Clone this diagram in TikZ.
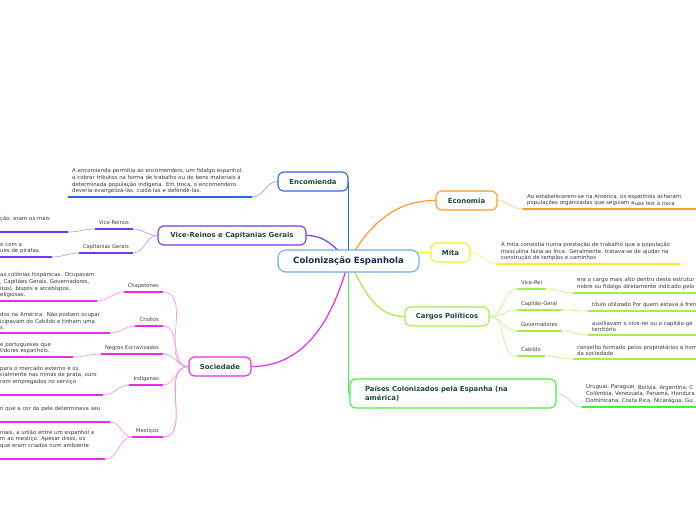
\documentclass[tikz,border=0pt]{standalone}
\usepackage{fontspec}
\setmainfont{DejaVu Sans}
\usepackage{xcolor}
\usepackage{tikz}
\usetikzlibrary{backgrounds}

\definecolor{cBlue}{HTML}{2468EA}
\definecolor{cPurple}{HTML}{7438F2}
\definecolor{cMagenta}{HTML}{EA2CEA}
\definecolor{cOrange}{HTML}{FF9B21}
\definecolor{cYellow}{HTML}{F0F024}
\definecolor{cLime}{HTML}{A4F046}
\definecolor{cGreen}{HTML}{46EE46}
\definecolor{cSky}{HTML}{6CB2E6}
\definecolor{cTitle}{HTML}{1E4A3C}
\definecolor{cNavy}{HTML}{1D2B4F}
\definecolor{cText}{HTML}{3A3A3A}

\begin{document}
\begin{tikzpicture}[x=1pt, y=-1pt,
  every node/.style={font=\fontsize{5.2}{6.5}\selectfont, text=cText, inner sep=0pt},
  topic/.style={rectangle, rounded corners=6pt, draw, line width=1.1pt, fill=white, minimum height=19pt, align=center, font=\bfseries\fontsize{6.9}{8.4}\selectfont, text=cTitle},
  root/.style={topic, draw=cSky, rounded corners=8pt, minimum height=22pt, font=\bfseries\fontsize{8.6}{10}\selectfont, text=cNavy},
  lbl/.style={inner xsep=4pt, inner ysep=3pt, text depth=1pt},
  note/.style={align=left, inner xsep=4pt, inner ysep=3pt, font=\fontsize{5.4}{6.6}\selectfont},
  ul/.style={line width=1.6pt},
  arm/.style={line width=1.2pt},
  twig/.style={line width=0.6pt},
]
\useasboundingbox (0,0) rectangle (696,520);

% main topics
\node[root, minimum width=141pt]               (cen)  at (348.5,261)   {Colonização Espanhola};
\node[topic, draw=cBlue, minimum width=70pt]   (enc)  at (313,181.5)   {Encomienda};
\node[topic, draw=cPurple, minimum width=148pt] (vrc) at (232,235.5)   {Vice-Reinos e Capitanias Gerais};
\node[topic, draw=cMagenta, minimum width=62pt] (soc) at (220,366.5)   {Sociedade};
\node[topic, draw=cOrange, minimum width=61pt] (eco)  at (466.5,200.5) {Economia};
\node[topic, draw=cYellow, minimum width=39pt] (mita) at (450.5,252.5) {Mita};
\node[topic, draw=cLime, minimum width=84pt]   (cp)   at (447,316.5)   {Cargos Políticos};
\node[topic, draw=cGreen, minimum height=29pt, text width=176pt, inner xsep=15pt, align=left] (pce) at (453,393.5)
  {Países Colonizados pela Espanha (na\\américa)};

% sub topics
\node[lbl, anchor=south east] (vrei) at (133,229) {Vice-Reinos};
\node[lbl, anchor=south east] (capg) at (133,253) {Capitanias Gerais};
\node[lbl, anchor=south east] (cha)  at (163,292) {Chapetones};
\node[lbl, anchor=south east] (cri)  at (163,326) {Criollos};
\node[lbl, anchor=south east] (neg)  at (163,354) {Negros Escravizados};
\node[lbl, anchor=south east] (ind)  at (163,385) {Indígenas};
\node[lbl, anchor=south east] (mes)  at (163,437) {Mestiços};
\node[lbl, anchor=south west] (vrr)  at (517,289) {Vice-Rei};
\node[lbl, anchor=south west] (cgl)  at (517,310) {Capitão-Geral};
\node[lbl, anchor=south west] (gov)  at (517,331) {Governadores};
\node[lbl, anchor=south west] (cab)  at (517,356) {Cabildo};

% notes
\node[note, anchor=south west, text width=176pt] (enct) at (68,197)
  {A encomienda permitia ao encomendero, um fidalgo espanhol,\\a cobrar tributos na forma de trabalho ou de bens materiais à\\determinada população indígena. Em troca, o encomendero\\deveria evangelizá-las, cuidá-las e defendê-las.};
\node[note, anchor=south west, text width=64pt]  (vret) at (-4,232) {ção, eram os mais\\\strut};
\node[note, anchor=south west, text width=48pt]  (capt) at (-4,257) {o com a\\ues de piratas.};
\node[note, anchor=south west, text width=93pt]  (chat) at (-4,301)
  {\mbox{as colônias hispânicas. Ocupavam}\\\mbox{, Capitães Gerais, Governadores,}\\itos), bispos e arcebispos,\\eligiosas.};
\node[note, anchor=south west, text width=106pt] (crit) at (-4,333)
  {dos na América. Não podiam ocupar\\icipavam do Cabildo e tinham uma\\s.};
\node[note, anchor=south west, text width=69pt]  (negt) at (-4,357) {e portugueses que\\tidores espanhóis.};
\node[note, anchor=south west, text width=99pt]  (indt) at (-4,395)
  {para o mercado externo e os\\\mbox{cialmente nas minas de prata, ouro}\\ram empregados no serviço\\\strut};
\node[note, anchor=south west, text width=106pt] (mest) at (-4,422) {n que a cor da pele determinava seu\\\strut};
\node[note, anchor=south west, text width=101pt] (mesu) at (-4,459)
  {niais, a união entre um espanhol e\\m ao mestiço. Apesar disso, os\\que eram criados num ambiente\\\strut};
\node[note, anchor=south west, text width=200pt] (ecot) at (523,209)
  {Ao estabelecerem-se na América, os espanhóis acharam\\populações organizadas que seguiam a\raisebox{-0.6pt}{uas leis à risca}};
\node[note, anchor=south west, text width=175pt] (mitt) at (497,264)
  {A mita consistia numa prestação de trabalho que a população\\masculina fazia ao Inca. Geralmente, tratava-se \raisebox{-0.6pt}{de ajudar na}\\construção de templos e caminhos};
\node[note, anchor=south west, text width=200pt] (vrrt) at (573,293)
  {era o cargo mais alto dentro desta estrutur\\nobre ou fidalgo diret\raisebox{-0.6pt}{amente indicado pelo}};
\node[note, anchor=south west, text width=200pt] (cglt) at (588,311)
  {título utilizado \raisebox{-0.6pt}{Por quem estava à fren}};
\node[note, anchor=south west, text width=200pt] (govt) at (588,335)
  {auxiliavam o vic\raisebox{-0.6pt}{e-rei ou o capitão-ge}\\território};
\node[note, anchor=south west, text width=200pt] (cabt) at (573,359)
  {conselho formado pelos proprietários e hom\\da sociedade};
\node[note, anchor=south west, text width=200pt] (pcet) at (582,407)
  {Uruguai, Paraguai\raisebox{-0.6pt}{, Bolívia, Argentina, C}\\Colômbia, Venezuela, Panamá, Hondura\\Dominicana, Costa\raisebox{-0.6pt}{ Rica, Nicarágua, Gu}};

% main arms
\begin{scope}[on background layer]
\fill[white] (0,0) rectangle (696,520);
\draw[arm, cBlue]    (cen.center -| enc.east) -- (enc.east);
\draw[arm, cPurple]  (cen.center) to[out=135, in=0] (vrc.east);
\draw[arm, cMagenta] (cen.center) to[out=-105, in=0] (soc.east);
\draw[arm, cOrange]  (cen.center) to[out=60, in=180] (eco.west);
\draw[arm, cYellow]  (cen.center) to[out=0, in=180] (mita.west);
\draw[arm, cLime]    (cen.center) to[out=-60, in=180] (cp.west);
\draw[arm, cGreen]   (cen.center) |- (pce.west);
\end{scope}

% underlines
\foreach \n in {enct} \draw[ul, cBlue] (\n.south west) -- (\n.south east);
\foreach \n in {vrei,capg,vret,capt} \draw[ul, cPurple] (\n.south west) -- (\n.south east);
\foreach \n in {cha,cri,neg,ind,mes,chat,crit,negt,indt,mest,mesu} \draw[ul, cMagenta] (\n.south west) -- (\n.south east);
\draw[ul, cOrange] (ecot.south west) -- (ecot.south east);
\draw[ul, cYellow] (mitt.south west) -- (mitt.south east);
\foreach \n in {vrr,cgl,gov,cab,vrrt,cglt,govt,cabt} \draw[ul, cLime] (\n.south west) -- (\n.south east);
\draw[ul, cGreen] (pcet.south west) -- (pcet.south east);

% twigs
\draw[twig, cBlue!60] (enct.south east) to[out=0, in=180] (enc.west);
\foreach \a/\b in {vrei/vret, capg/capt} {
  \draw[twig, cPurple!55] (\a.south east) to[out=0, in=180] (vrc.west);
  \draw[twig, cPurple!55] (\b.south east) to[out=0, in=180] (\a.south west);
}
\foreach \a/\b in {cha/chat, cri/crit, neg/negt, ind/indt, mes/mest, mes/mesu} {
  \draw[twig, cMagenta!55] (\a.south east) to[out=0, in=180] (soc.west);
  \draw[twig, cMagenta!55] (\b.south east) to[out=0, in=180] (\a.south west);
}
\draw[twig, cOrange!60] (eco.east) to[out=0, in=180] (ecot.south west);
\draw[twig, cYellow!70] (mita.east) to[out=0, in=180] (mitt.south west);
\foreach \a/\b in {vrr/vrrt, cgl/cglt, gov/govt, cab/cabt} {
  \draw[twig, cLime!70] (cp.east) to[out=0, in=180] (\a.south west);
  \draw[twig, cLime!70] (\a.south east) to[out=0, in=180] (\b.south west);
}
\draw[twig, cGreen!60] (pce.east) to[out=0, in=180] (pcet.south west);
\end{tikzpicture}
\end{document}
